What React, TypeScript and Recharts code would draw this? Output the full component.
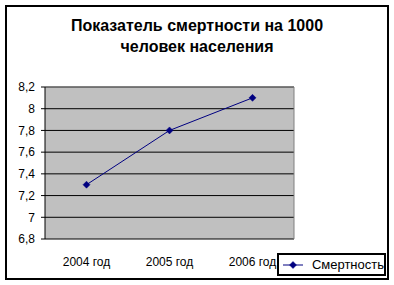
import React from 'react';
import {
  LineChart,
  Line,
  XAxis,
  YAxis,
  CartesianGrid,
  ReferenceLine,
} from 'recharts';

const years = ['2004 год', '2005 год', '2006 год'];
const mortality = [7.3, 7.8, 8.1];
const yTicks = [6.8, 7, 7.2, 7.4, 7.6, 7.8, 8, 8.2];
const bandTicks = [0, 1, 2, 3];
const seriesName = 'Смертность';

const data = years.map((year, i) => ({ year, value: mortality[i], band: i + 0.5 }));

const FONT = 'Arial, "Liberation Sans", sans-serif';
const NAVY = '#000080';

const fmt = (v: number) => String(Number(v.toFixed(1))).replace('.', ',');

const Diamond = ({ cx, cy }: any) => {
  if (cx == null || cy == null) return null;
  const r = 3.5;
  return (
    <polygon
      points={`${cx},${cy - r} ${cx + r},${cy} ${cx},${cy + r} ${cx - r},${cy}`}
      fill={NAVY}
      stroke={NAVY}
      strokeWidth={0.5}
    />
  );
};

// legend drawn beside the chart so it does not shrink the plot area
const LegendBox = () => (
  <div
    style={{
      position: 'absolute',
      left: 277,
      top: 253,
      width: 109,
      height: 23,
      border: '2px solid #000',
      background: '#fff',
      boxSizing: 'border-box',
      display: 'flex',
      alignItems: 'center',
      fontFamily: FONT,
      fontSize: 13,
      color: '#000',
    }}
  >
    <svg width={31} height={10} style={{ marginLeft: 2 }}>
      <line x1={2} y1={5} x2={22} y2={5} stroke={NAVY} strokeWidth={1} />
      <Diamond cx={12} cy={5} />
    </svg>
    <span>{seriesName}</span>
  </div>
);

export default function App() {
  return (
    <div
      style={{
        position: 'absolute',
        left: 0,
        top: 0,
        width: 394,
        height: 285,
        background: '#fff',
        fontFamily: FONT,
      }}
    >
      <div
        style={{
          position: 'absolute',
          left: 5,
          top: 5,
          width: 384,
          height: 275,
          border: '2px solid #000',
          boxSizing: 'border-box',
        }}
      />
      <div
        style={{
          position: 'absolute',
          left: 0,
          top: 15,
          width: 394,
          textAlign: 'center',
          fontWeight: 'bold',
          fontSize: 16,
          lineHeight: '21px',
          color: '#000',
        }}
      >
        Показатель смертности на 1000
        <br />
        человек населения
      </div>
      <div style={{ position: 'absolute', left: 0, top: 0 }}>
        <LineChart
          width={394}
          height={285}
          data={data}
          margin={{ top: 87, right: 100, bottom: 0, left: 0 }}
        >
          <CartesianGrid
            vertical={false}
            stroke="#000"
            fill="#C0C0C0"
            fillOpacity={1}
          />
          <XAxis
            xAxisId="band"
            dataKey="band"
            type="number"
            domain={[0, 3]}
            ticks={bandTicks}
            tick={false}
            tickSize={4}
            height={0}
            stroke="#000"
          />
          <XAxis
            dataKey="year"
            type="category"
            padding={{ left: 41.5, right: 41.5 }}
            height={46}
            axisLine={false}
            tickLine={false}
            tickSize={0}
            tickMargin={18}
            tick={{ fill: '#000', fontSize: 12, fontFamily: FONT }}
          />
          <YAxis
            type="number"
            domain={[6.8, 8.2]}
            ticks={yTicks}
            width={45}
            tickSize={4}
            tickMargin={6}
            interval={0}
            stroke="#000"
            tickFormatter={fmt}
            tick={{ fill: '#000', fontSize: 12, fontFamily: FONT }}
          />
          <ReferenceLine y={8.2} stroke="#808080" />
          <ReferenceLine x={3} xAxisId="band" stroke="#808080" />
          <Line
            dataKey="value"
            name={seriesName}
            stroke={NAVY}
            strokeWidth={1}
            dot={<Diamond />}
            activeDot={false}
            isAnimationActive={false}
          />
        </LineChart>
      </div>
      <LegendBox />
    </div>
  );
}
